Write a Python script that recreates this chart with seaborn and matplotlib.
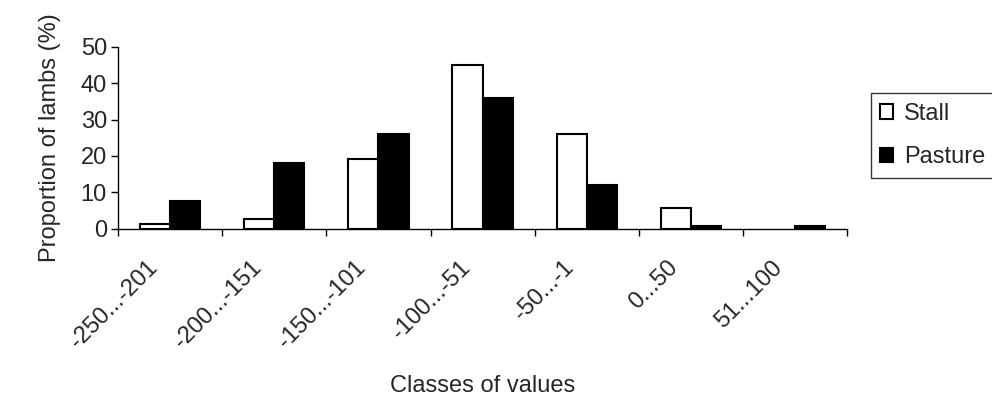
import matplotlib
matplotlib.use("Agg")
import matplotlib.pyplot as plt
import matplotlib.transforms as mtransforms
import seaborn as sns
import pandas as pd
import numpy as np
from matplotlib.patches import Patch

categories = ["-250...-201", "-200...-151", "-150...-101", "-100...-51", "-50...-1", "0...50", "51...100"]
stall = [1.2, 2.5, 19.1, 45.0, 25.9, 5.6, 0.0]
pasture = [7.6, 18.0, 26.1, 36.0, 11.9, 0.7, 0.7]
series = ["Stall", "Pasture"]

df = pd.DataFrame({
    "Class": categories * 2,
    "Group": ["Stall"] * len(categories) + ["Pasture"] * len(categories),
    "Value": stall + pasture,
})

sns.set_theme(style="white")
plt.rcParams["font.family"] = ["Liberation Sans", "DejaVu Sans"]
FS = 17

fig = plt.figure(figsize=(9.92, 3.99), dpi=100)
ax = fig.add_axes([0.119, 0.4273, 0.735, 0.455])

sns.barplot(data=df, x="Class", y="Value", hue="Group", order=categories,
            hue_order=series, palette={"Stall": "white", "Pasture": "black"},
            edgecolor="black", linewidth=1.5, width=0.58, gap=0, ax=ax,
            legend=False, errorbar=None)
for p in ax.patches:
    if p.get_height() == 0:
        p.set_visible(False)

ax.set_xlim(-0.5, len(categories) - 0.5)
ax.set_ylim(0, 50)
ax.set_yticks([0, 10, 20, 30, 40, 50])
ax.tick_params(axis="y", labelsize=FS, length=5, width=1, direction="out", left=True, color="black", pad=3)
ax.set_xticks(range(len(categories)))
ax.set_xticklabels(categories, rotation=45, ha="right", va="center", rotation_mode="anchor", fontsize=FS)
ax.tick_params(axis="x", which="major", length=0, pad=26)
offset = mtransforms.ScaledTranslation(-16 / 100, 0 / 100, fig.dpi_scale_trans)
for lbl in ax.get_xticklabels():
    lbl.set_transform(lbl.get_transform() + offset)
ax.set_xticks(np.arange(-0.5, len(categories)), minor=True)
ax.tick_params(axis="x", which="minor", length=5, width=1, direction="out", bottom=True, color="black")

for s in ["top", "right"]:
    ax.spines[s].set_visible(False)
for s in ["left", "bottom"]:
    ax.spines[s].set_color("black")
    ax.spines[s].set_linewidth(1)

ax.set_ylabel("Proportion of lambs (%)", fontsize=FS, labelpad=14)
ax.set_xlabel("Classes of values", fontsize=FS, labelpad=16)

handles = [Patch(facecolor="white", edgecolor="black", linewidth=1.5, label="Stall"),
           Patch(facecolor="black", edgecolor="black", linewidth=1.5, label="Pasture")]
leg = fig.legend(handles=handles, loc="upper left", bbox_to_anchor=(0.878, 0.766),
                 frameon=True, fontsize=FS, labelspacing=0.9, handlelength=0.55,
                 handleheight=0.55, handletextpad=0.45, borderpad=0.4, fancybox=False,
                 borderaxespad=0)
leg.get_frame().set_edgecolor("black")
leg.get_frame().set_linewidth(1)

fig.savefig("out.png", dpi=100)
